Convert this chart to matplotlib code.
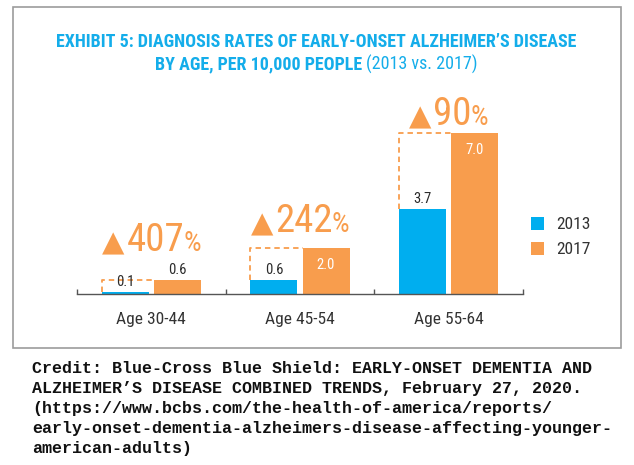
import matplotlib
matplotlib.use('Agg')
import matplotlib.pyplot as plt
from matplotlib import font_manager
from matplotlib.patches import Rectangle
from matplotlib.transforms import offset_copy
import numpy as np

# ---------------- data ----------------
categories = ['Age 30-44', 'Age 45-54', 'Age 55-64']
series_names = ['2013', '2017']
rates_2013 = [0.1, 0.6, 3.7]
rates_2017 = [0.6, 2.0, 7.0]
pct_increase = ['407', '242', '90']
title_line1 = 'EXHIBIT 5: DIAGNOSIS RATES OF EARLY-ONSET ALZHEIMER\u2019S DISEASE'
title_line2_bold = 'BY AGE, PER 10,000 PEOPLE '
title_line2_regular = '(2013 vs. 2017)'
credit_lines = [
    'Credit: Blue-Cross Blue Shield: EARLY-ONSET DEMENTIA AND',
    'ALZHEIMER\u2019S DISEASE COMBINED TRENDS, February 27, 2020.',
    '(https://www.bcbs.com/the-health-of-america/reports/',
    'early-onset-dementia-alzheimers-disease-affecting-younger-',
    'american-adults)',
]

# ---------------- style ----------------
BLUE = '#00AEEF'
ORANGE = '#F89D4D'
TITLE_BLUE = '#14ADEA'
DARK = '#2b2b2b'
AXIS = '#555555'

available = {f.name for f in font_manager.fontManager.ttflist}


def pick(cands):
    for c in cands:
        if c in available:
            return c
    return 'DejaVu Sans'


NARROW = pick(['Roboto Condensed', 'Liberation Sans Narrow', 'Open Sans Condensed', 'Roboto'])
MONO = pick(['Liberation Mono', 'DejaVu Sans Mono'])

W, H, DPI = 634, 465, 100
fig = plt.figure(figsize=(W / DPI, H / DPI), dpi=DPI)
fig.patch.set_facecolor('white')


def fx(px):
    return px / W


def fy(py):
    return 1 - py / H


# outer frame
fig.add_artist(Rectangle((fx(13), fy(348)), fx(621) - fx(13), fy(7) - fy(348),
                         transform=fig.transFigure, fill=False,
                         edgecolor='#9c9c9c', lw=1.2))

# axes: baseline at y=294px, x from 77 to 523 px
ax = fig.add_axes([fx(77), fy(294), fx(523) - fx(77), 184 / H])
ax.set_xlim(-0.5, 2.5)
ax.set_ylim(0, 8)
for s in ['top', 'right', 'left']:
    ax.spines[s].set_visible(False)
ax.spines['bottom'].set_color(AXIS)
ax.spines['bottom'].set_linewidth(1.0)
ax.set_yticks([])

x = np.arange(len(categories))
bw = 0.316
off = 0.175
bars13 = ax.bar(x - off, rates_2013, bw, color=BLUE, label=series_names[0], zorder=2)
bars17 = ax.bar(x + off, rates_2017, bw, color=ORANGE, label=series_names[1], zorder=2)

ax.set_xticks(x, categories)
ax.tick_params(axis='x', length=0, pad=13, labelsize=12.5, labelcolor='#333333')
for lab in ax.get_xticklabels():
    lab.set_fontfamily(NARROW)
ax.set_xticks(np.arange(-0.5, len(categories), 1.0), minor=True)
ax.tick_params(axis='x', which='minor', direction='in', length=3.5, width=1.0, color=AXIS)

# dashed outline showing 2017 level over 2013 bar
for i in range(len(categories)):
    bl = x[i] - off - bw / 2
    ol = x[i] + off - bw / 2
    ax.plot([bl, bl, ol], [rates_2013[i], rates_2017[i], rates_2017[i]],
            color=ORANGE, lw=1.3, ls=(0, (3, 2.2)), zorder=1, solid_capstyle='butt')

# value labels
for b, v in zip(bars13, rates_2013):
    ax.annotate(f'{v:.1f}', (b.get_x() + b.get_width() / 2, v), xytext=(0, 2),
                textcoords='offset points', ha='center', va='bottom',
                fontsize=10.5, color=DARK, family=NARROW, zorder=4)
for b, v in zip(bars17, rates_2017):
    inside = v >= 1
    ax.annotate(f'{v:.1f}', (b.get_x() + b.get_width() / 2, v),
                xytext=(0, -7 if inside else 2), textcoords='offset points',
                ha='center', va='top' if inside else 'bottom',
                fontsize=10.5, color='white' if inside else DARK, family=NARROW, zorder=4)

# percent-increase annotations (triangle + number + small %)
fig.canvas.draw()
renderer = fig.canvas.get_renderer()
raise_px = [29, 16, 8]
for i in range(len(categories)):
    pieces = [('\u25B2', 21, 'DejaVu Sans'), (pct_increase[i], 28, NARROW), ('%', 20, NARROW)]
    gaps = [2, -1, 0]
    texts = []
    for s, sz, fam in pieces:
        t = ax.text(0, 0, s, fontsize=sz, family=fam, color=ORANGE, va='baseline', ha='left')
        texts.append(t)
    widths = [t.get_window_extent(renderer).width for t in texts]
    total = sum(widths) + sum(gaps)
    cur = -total / 2
    for t, w, g in zip(texts, widths, gaps):
        t.set_transform(offset_copy(ax.transData, fig=fig, x=cur, y=raise_px[i], units='dots'))
        t.set_position((x[i], rates_2017[i]))
        cur += w + g

# legend
ax.legend(handles=[bars13, bars17], labels=series_names, loc='upper left',
          bbox_to_anchor=(fx(531), fy(217)), bbox_transform=fig.transFigure,
          frameon=False, handlelength=0.75, handleheight=0.75, handletextpad=0.7,
          labelspacing=0.55, borderpad=0, borderaxespad=0,
          prop={'family': NARROW, 'size': 12.5}, labelcolor='#333333')

# title
fig.text(fx(316), fy(42), title_line1, ha='center', va='center', fontsize=13,
         fontweight='bold', family=NARROW, color=TITLE_BLUE)
tb = fig.text(0, fy(64), title_line2_bold, ha='left', va='center', fontsize=13,
              fontweight='bold', family=NARROW, color=TITLE_BLUE)
tr = fig.text(0, fy(64), title_line2_regular, ha='left', va='center', fontsize=13,
              family=NARROW, color=TITLE_BLUE)
wb = tb.get_window_extent(renderer).width
wr = tr.get_window_extent(renderer).width
start = 316 - (wb + wr) / 2
tb.set_x(fx(start))
tr.set_x(fx(start + wb))

# credit
for k, line in enumerate(credit_lines):
    fig.text(fx(32), fy(373 + 20 * k), line, ha='left', va='baseline',
             fontsize=12, fontweight='bold', family=MONO, color='#111111')

fig.savefig('out.png', dpi=DPI, facecolor='white')
